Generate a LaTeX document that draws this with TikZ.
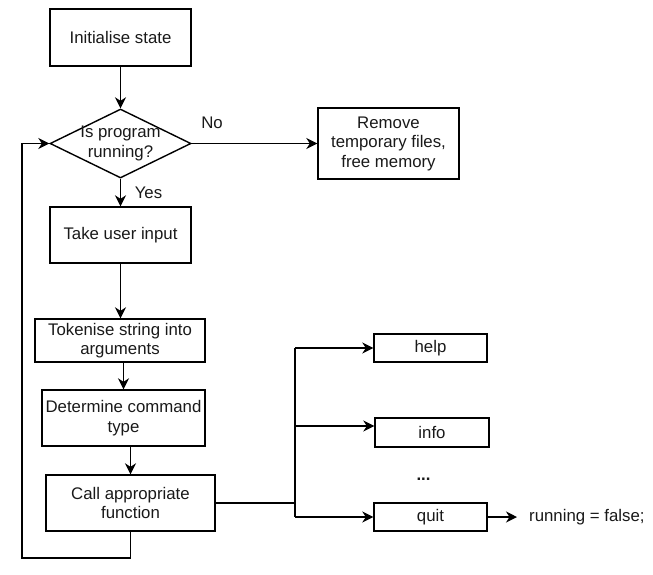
\documentclass[tikz,border=0pt]{standalone}
\usepackage{fontspec}
\setmainfont{Liberation Sans}
\usetikzlibrary{arrows.meta,shapes.geometric}
\begin{document}
\begin{tikzpicture}[x=1pt,y=-1pt,
  every node/.style={font=\fontsize{16.8}{19.5}\selectfont, text=black!90},
  box/.style={draw, line width=1.4pt, rectangle, inner sep=0pt, align=center},
  arr/.style={-{Stealth[length=11pt,width=11pt,inset=3.5pt]}, line width=1.4pt},
  ln/.style={line width=1.4pt}
]
\useasboundingbox (0,0) rectangle (653,574);
\node[box, minimum width=141pt, minimum height=57pt] (init) at (120.5,37.5) {Initialise state};
\node[draw, line width=1.4pt, diamond, inner sep=0pt, minimum width=141pt, minimum height=69pt,
  label={[align=center, font=\fontsize{16.8}{19.5}\selectfont]center:Is program\\running?}] (dec) at (120.5,143.5) {};
\node[box, minimum width=141pt, minimum height=71pt] (rem) at (388.5,143.5) {Remove\\temporary files,\\free memory};
\node[box, minimum width=141pt, minimum height=56pt] (take) at (120.5,235) {Take user input};
\node[box, minimum width=170pt, minimum height=43pt] (tok) at (120,340.5) {Tokenise string into\\arguments};
\node[box, minimum width=163pt, minimum height=56pt] (det) at (123.5,418) {Determine command\\type};
\node[box, minimum width=169pt, minimum height=56pt] (call) at (130.5,503) {Call appropriate\\function};
\node[box, minimum width=113pt, minimum height=28pt] (help) at (430.5,348) {help};
\node[box, minimum width=114pt, minimum height=29pt] (info) at (432,432.5) {info};
\node[box, minimum width=113pt, minimum height=28pt] (quit) at (430.5,517) {quit};
\node[inner sep=0pt] (dots) at (423.5,479) {\textbf{...}};
\node[anchor=west, inner xsep=12pt, inner ysep=0pt] (run) at (517,517) {running = false;};
\node (no) at (212,123) {No};
\node (yes) at (148.5,193) {Yes};
\coordinate (loopc) at (22,558);
\coordinate (bx) at (295,503);
\coordinate (infoin) at ([yshift=6.5pt]info.west);

\draw[arr] (init) -- (dec);
\draw[arr] (dec.east) -- (rem.west);
\draw[arr] (dec.south) -- (take.north);
\draw[arr] (take.south) -- (take.south |- tok.north);
\draw[arr] (det.north |- tok.south) -- (det.north);
\draw[arr] (call.north |- det.south) -- (call.north);
\draw[arr] (call.south) |- (loopc) |- (dec.west);
\draw[ln] (call.east) -- (bx);
\draw[ln] (bx |- help.west) -- (bx |- quit.west);
\draw[arr] (bx |- help.west) -- (help.west);
\draw[arr] (bx |- infoin) -- (infoin);
\draw[arr] (bx |- quit.west) -- (quit.west);
\draw[arr] (quit.east) -- (run.west);
\end{tikzpicture}
\end{document}
